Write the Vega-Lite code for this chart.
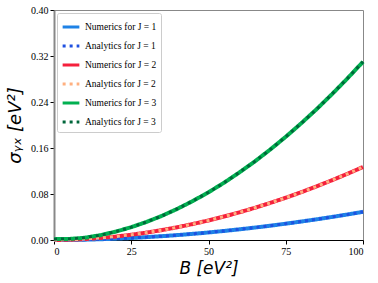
{
  "$schema": "https://vega.github.io/schema/vega-lite/v6.json",
  "autosize": "none",
  "width": 309,
  "height": 230,
  "padding": {"left": 54, "top": 10, "right": 15, "bottom": 43},
  "config": {
    "view": {"stroke": "#888", "strokeWidth": 1},
    "axis": {"labelFont": "Liberation Serif", "labelFontSize": 10, "labelColor": "#000", "tickColor": "#000", "tickSize": 4, "grid": false, "titleFont": "DejaVu Sans", "titleFontWeight": "normal", "titleFontSize": 17, "titleFontStyle": "italic", "titleColor": "#000"}
  },
  "data": {"values": [
    {"B":0,"J1":0,"J2":0,"J3":0.0015},
    {"B":5,"J1":0.0002,"J2":0.0004,"J3":0.0018},
    {"B":10,"J1":0.0006,"J2":0.0016,"J3":0.0039},
    {"B":15,"J1":0.0013,"J2":0.0035,"J3":0.0084},
    {"B":20,"J1":0.0023,"J2":0.0060,"J3":0.0146},
    {"B":25,"J1":0.0035,"J2":0.0091,"J3":0.0223},
    {"B":30,"J1":0.0050,"J2":0.0129,"J3":0.0315},
    {"B":35,"J1":0.0067,"J2":0.0173,"J3":0.0422},
    {"B":40,"J1":0.0086,"J2":0.0223,"J3":0.0544},
    {"B":45,"J1":0.0107,"J2":0.0279,"J3":0.0680},
    {"B":50,"J1":0.0131,"J2":0.0340,"J3":0.0830},
    {"B":55,"J1":0.0157,"J2":0.0408,"J3":0.0995},
    {"B":60,"J1":0.0186,"J2":0.0481,"J3":0.1175},
    {"B":65,"J1":0.0216,"J2":0.0560,"J3":0.1367},
    {"B":70,"J1":0.0249,"J2":0.0645,"J3":0.1574},
    {"B":75,"J1":0.0284,"J2":0.0735,"J3":0.1795},
    {"B":80,"J1":0.0321,"J2":0.0831,"J3":0.2029},
    {"B":85,"J1":0.0360,"J2":0.0933,"J3":0.2276},
    {"B":90,"J1":0.0401,"J2":0.1040,"J3":0.2538},
    {"B":95,"J1":0.0444,"J2":0.1152,"J3":0.2812},
    {"B":100,"J1":0.0490,"J2":0.1270,"J3":0.3100}
  ]},
  "transform": [
    {"fold": ["J1", "J2", "J3"], "as": ["J", "v"]},
    {"lookup": "J", "from": {"data": {"values": [
      {"J": "J1", "n": "Numerics for J = 1", "a": "Analytics for J = 1"},
      {"J": "J2", "n": "Numerics for J = 2", "a": "Analytics for J = 2"},
      {"J": "J3", "n": "Numerics for J = 3", "a": "Analytics for J = 3"}
    ]}, "key": "J", "fields": ["n", "a"]}}
  ],
  "encoding": {
    "x": {"field": "B", "type": "quantitative", "scale": {"domain": [0, 100], "nice": false}, "axis": {"values": [0, 25, 50, 75, 100], "title": "B [eV²]", "domainColor": "#000", "titlePadding": 4}},
    "y": {"field": "v", "type": "quantitative", "scale": {"domain": [0, 0.4], "nice": false}, "axis": {"values": [0, 0.08, 0.16, 0.24, 0.32, 0.4], "format": ".2f", "title": "σᵧₓ [eV²]", "titleFontSize": 18, "domainColor": "#888", "domainWidth": 2, "titlePadding": 6}}
  },
  "layer": [
    {
      "mark": {"type": "line", "strokeWidth": 4},
      "encoding": {
        "detail": {"field": "J"},
        "color": {"field": "n", "type": "nominal",
          "scale": {"domain": ["Numerics for J = 1", "Analytics for J = 1", "Numerics for J = 2", "Analytics for J = 2", "Numerics for J = 3", "Analytics for J = 3"],
                    "range": ["#1e82e6", "#1f50e0", "#f5203c", "#ffb080", "#00b050", "#00663a"]},
          "legend": {"title": null, "orient": "top-left", "offset": 3, "labelFont": "Liberation Serif", "labelFontSize": 9.5, "labelColor": "#000", "symbolType": "stroke", "symbolSize": 280, "symbolStrokeWidth": 3, "fillColor": "#fff", "strokeColor": "#ccc", "padding": 4, "cornerRadius": 2, "rowPadding": 3, "symbolOffset": 0, "labelOffset": 4}},
        "strokeDash": {"field": "n", "type": "nominal",
          "scale": {"domain": ["Numerics for J = 1", "Analytics for J = 1", "Numerics for J = 2", "Analytics for J = 2", "Numerics for J = 3", "Analytics for J = 3"],
                    "range": [[1, 0], [3, 4], [1, 0], [3, 4], [1, 0], [3, 4]]}}
      }
    },
    {
      "mark": {"type": "line", "strokeWidth": 3},
      "encoding": {
        "detail": {"field": "J"},
        "color": {"field": "a", "type": "nominal"},
        "strokeDash": {"field": "a", "type": "nominal"}
      }
    }
  ]
}
